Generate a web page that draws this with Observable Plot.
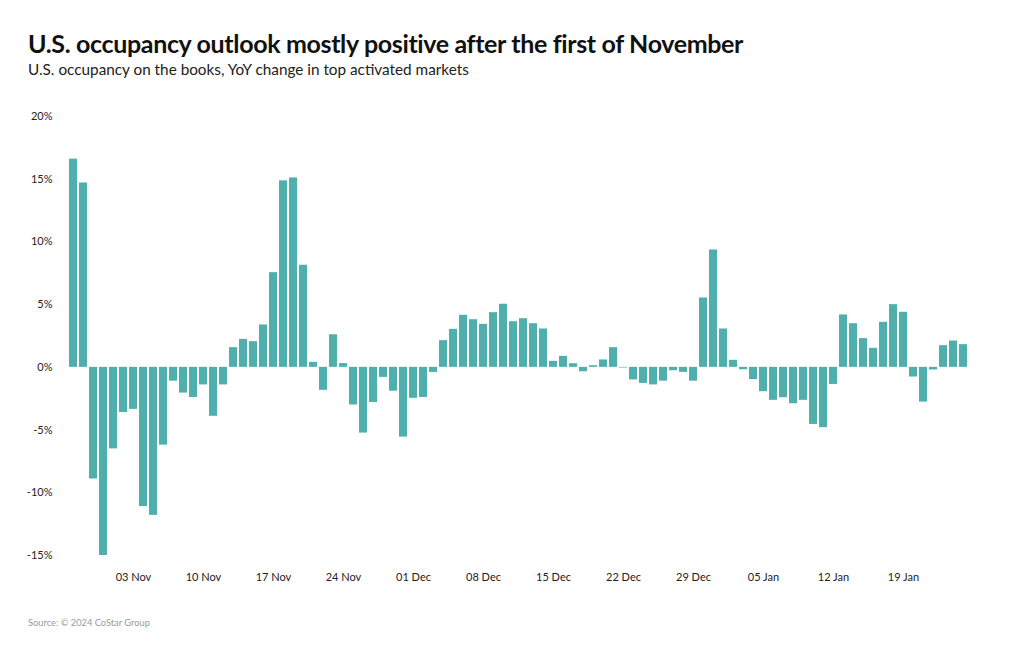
<!DOCTYPE html>
<html>
<head>
<meta charset="utf-8">
<script src="https://cdn.jsdelivr.net/npm/d3@7"></script>
<script src="https://cdn.jsdelivr.net/npm/@observablehq/plot@0.6"></script>
<style>
  html, body { margin: 0; padding: 0; background: #fff; }
  body { width: 1020px; height: 650px; position: relative; font-family: Lato, "Open Sans", sans-serif; overflow: hidden; }
  #title { position: absolute; left: 28px; top: 28px; font-size: 25px; font-weight: 700; color: #111; white-space: nowrap; letter-spacing: -0.35px; }
  #subtitle { position: absolute; left: 28px; top: 60px; font-size: 15.3px; color: #222; white-space: nowrap; }
  #chart { position: absolute; left: 0; top: 90px; }
  #source { position: absolute; left: 28px; top: 617px; font-size: 9.3px; color: #999; }
</style>
</head>
<body>
<div id="title">U.S. occupancy outlook mostly positive after the first of November</div>
<div id="subtitle">U.S. occupancy on the books, YoY change in top activated markets</div>
<div id="chart"></div>
<div id="source">Source: © 2024 CoStar Group</div>
<script>
// First date of the series (UTC), one bar per day
const startDate = "2024-10-28";
// YoY change in occupancy on the books, percent, one per day
const yoyChange = [
  16.6, 14.7, -8.9, -15.0, -6.5, -3.6, -3.35, -11.1, -11.8, -6.2,
  -1.1, -2.05, -2.4, -1.4, -3.9, -1.4, 1.57, 2.23, 2.05, 3.38,
  7.55, 14.87, 15.1, 8.14, 0.4, -1.83, 2.6, 0.3, -3.0, -5.24,
  -2.8, -0.8, -1.9, -5.56, -2.47, -2.4, -0.4, 2.13, 3.03, 4.15,
  3.8, 3.43, 4.36, 5.03, 3.64, 3.88, 3.48, 3.06, 0.48, 0.88,
  0.29, -0.35, 0.13, 0.59, 1.57, -0.05, -1.0, -1.28, -1.4, -1.1,
  -0.27, -0.4, -1.1, 5.53, 9.36, 3.06, 0.56, -0.19, -0.98, -1.94,
  -2.63, -2.42, -2.9, -2.63, -4.55, -4.81, -1.36, 4.18, 3.48, 2.29,
  1.52, 3.59, 5.0, 4.39, -0.77, -2.77, -0.21, 1.73, 2.1, 1.81
];
// Y-axis tick values (percent)
const yTicks = [-15, -10, -5, 0, 5, 10, 15, 20];
// X-axis tick labels (dates shown)
const xTickLabels = ["2024-11-03","2024-11-10","2024-11-17","2024-11-24","2024-12-01","2024-12-08","2024-12-15","2024-12-22","2024-12-29","2025-01-05","2025-01-12","2025-01-19"];

const t0 = new Date(startDate + "T00:00:00Z");
const data = yoyChange.map((v, i) => ({ date: d3.utcDay.offset(t0, i), value: v }));
const xTicks = xTickLabels.map(s => new Date(s + "T00:00:00Z"));
const fmtDate = d3.utcFormat("%d %b");

const chart = Plot.plot({
  width: 1020,
  height: 520,
  marginLeft: 62,
  marginRight: 45,
  marginTop: 26,
  marginBottom: 55,
  style: { fontFamily: "Lato, 'Open Sans', sans-serif", fontSize: "11px", color: "#222", background: "transparent" },
  x: { type: "band", domain: data.map(d => d.date), paddingInner: 0.18, paddingOuter: 0.1, label: null },
  y: { domain: [-15, 20], label: null },
  marks: [
    Plot.barY(data, { x: "date", y: "value", fill: "#4eafad" }),
    Plot.axisX({ ticks: xTicks, tickSize: 0, tickPadding: 18, tickFormat: fmtDate, fontSize: 11 }),
    Plot.axisY({ ticks: yTicks, tickSize: 0, tickPadding: 10, tickFormat: d => d + "%", fontSize: 11 })
  ]
});
document.getElementById("chart").appendChild(chart);
</script>
</body>
</html>
